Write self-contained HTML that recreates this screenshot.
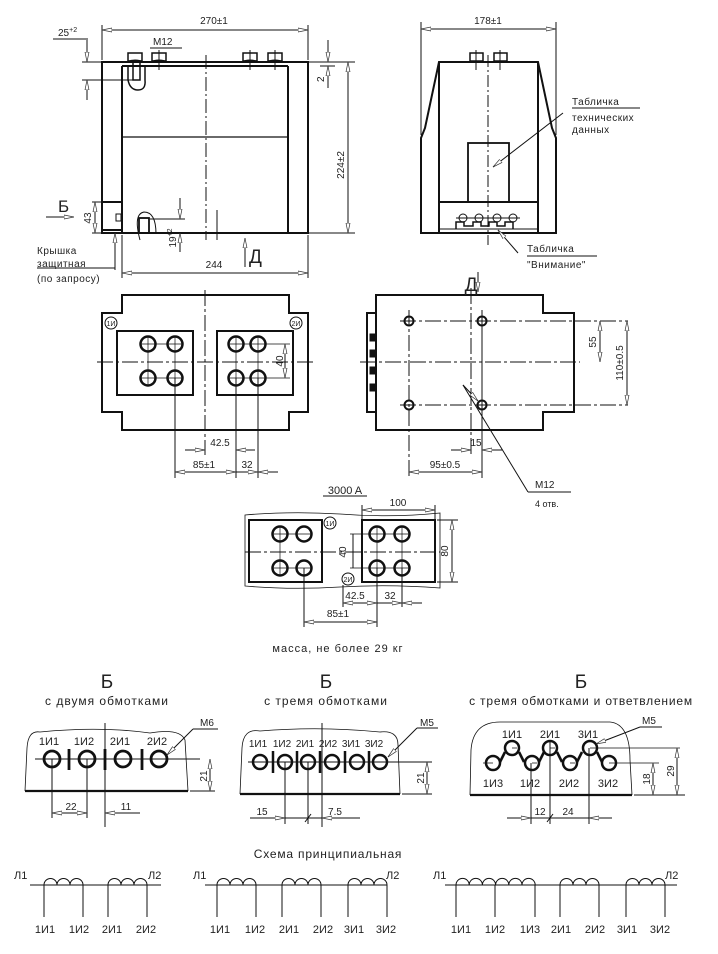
<!DOCTYPE html>
<html><head><meta charset="utf-8"><style>
html,body{margin:0;padding:0;background:#fff;}
svg{display:block;}
text{font-family:"Liberation Sans","DejaVu Sans",sans-serif;fill:#222;}
</style></head><body>
<svg width="718" height="954" viewBox="0 0 718 954" xmlns="http://www.w3.org/2000/svg">
<defs>
<marker id="a" markerWidth="10" markerHeight="6" refX="10" refY="3" orient="auto-start-reverse" markerUnits="userSpaceOnUse"><path d="M0,1 L10,3 L0,5z" fill="#fff" stroke="#333" stroke-width="0.7"/></marker>
</defs>
<g fill="none" stroke="#111" stroke-width="1">

<!-- ===== VIEW 1 (front) ===== -->
<g stroke-width="2">
<rect x="102" y="62" width="206" height="171"/>
<line x1="122" y1="66" x2="122" y2="233"/>
<line x1="288" y1="66" x2="288" y2="233"/>
<line x1="122" y1="66" x2="288" y2="66"/>
<line x1="122" y1="137" x2="288" y2="137" stroke-width="1.2"/>
<rect x="102" y="202" width="20" height="28"/>
</g>
<line x1="206" y1="55" x2="206" y2="240" stroke-dasharray="14,3,2,3"/>
<line x1="217" y1="210" x2="217" y2="240"/>
<g stroke-width="1.5">
<rect x="128" y="53" width="14" height="8"/><rect x="152" y="53" width="14" height="8"/>
<rect x="243" y="53" width="14" height="8"/><rect x="268" y="53" width="14" height="8"/>
</g>
<path d="M126 62 q9 -4 18 0 M150 62 q9 -4 18 0 M241 62 q9 -4 18 0 M266 62 q9 -4 18 0"/>
<line x1="159" y1="50" x2="159" y2="70"/><line x1="275" y1="50" x2="275" y2="70"/><line x1="250" y1="50" x2="250" y2="70"/>
<path d="M128 66 L128 80 Q130 90 138 90 Q146 90 145 80 L145 66" stroke-width="1.5"/>
<rect x="133" y="62" width="7" height="18" stroke-width="1.5"/>
<path d="M140 240 q-7 -26 4 -28 q12 0 12 22" stroke-width="1"/>
<rect x="139" y="218" width="10" height="15" stroke-width="1.8"/>
<rect x="116" y="214" width="5" height="7"/>
<line x1="102" y1="25" x2="102" y2="60"/><line x1="308" y1="25" x2="308" y2="60"/>
<line x1="102" y1="30" x2="308" y2="30" marker-start="url(#a)" marker-end="url(#a)"/>
<line x1="53" y1="39" x2="88" y2="39"/>
<line x1="82" y1="62" x2="120" y2="62"/><line x1="82" y1="80" x2="135" y2="80"/>
<line x1="87" y1="40" x2="87" y2="62" marker-end="url(#a)"/><line x1="87" y1="100" x2="87" y2="80" marker-end="url(#a)"/>
<line x1="150" y1="48" x2="182" y2="48"/>
<line x1="308" y1="62" x2="355" y2="62"/><line x1="308" y1="233" x2="355" y2="233"/>
<line x1="320" y1="66" x2="335" y2="66"/>
<line x1="328" y1="40" x2="328" y2="62" marker-end="url(#a)"/><line x1="328" y1="88" x2="328" y2="66" marker-end="url(#a)"/>
<line x1="348" y1="62" x2="348" y2="233" marker-start="url(#a)" marker-end="url(#a)"/>
<line x1="122" y1="235" x2="122" y2="278"/><line x1="308" y1="235" x2="308" y2="278"/>
<line x1="122" y1="273" x2="308" y2="273" marker-start="url(#a)" marker-end="url(#a)"/>
<line x1="92" y1="202" x2="102" y2="202"/><line x1="92" y1="233" x2="122" y2="233"/>
<line x1="95" y1="202" x2="95" y2="233" marker-start="url(#a)" marker-end="url(#a)"/>
<line x1="46" y1="217" x2="74" y2="217" marker-end="url(#a)"/>
<line x1="245" y1="267" x2="245" y2="238" marker-end="url(#a)"/>
<line x1="150" y1="219" x2="185" y2="219"/>
<line x1="180" y1="198" x2="180" y2="219" marker-end="url(#a)"/><line x1="180" y1="252" x2="180" y2="233" marker-end="url(#a)"/>
<line x1="115" y1="233" x2="115" y2="270" marker-start="url(#a)"/>
<line x1="37" y1="268" x2="115" y2="268"/>

<!-- ===== VIEW 2 (side) ===== -->
<g stroke-width="2">
<path d="M439 62 L538 62 L552 128 L556 138 L556 233 L421 233 L421 138 L425 128 Z"/>
<line x1="439" y1="62" x2="439" y2="233"/><line x1="538" y1="62" x2="538" y2="233"/>
<rect x="468" y="143" width="41" height="59" stroke-width="1.8"/>
<line x1="439" y1="202" x2="538" y2="202"/>
<line x1="440" y1="229" x2="538" y2="229" stroke-width="1"/>
<path d="M456 229 V222 h8 v4 h9 v-4 h8 v4 h8 v-4 h8 v4 h8 v-4 h8 v7" stroke-width="1.5"/>
<rect x="470" y="53" width="13" height="8" stroke-width="1.5"/><rect x="494" y="53" width="13" height="8" stroke-width="1.5"/>
</g>
<circle cx="463" cy="218" r="4"/><circle cx="479" cy="218" r="4"/><circle cx="497" cy="218" r="4"/><circle cx="513" cy="218" r="4"/>
<line x1="456" y1="218" x2="520" y2="218"/>
<line x1="488" y1="55" x2="488" y2="245" stroke-dasharray="12,3,2,3"/>
<line x1="476" y1="50" x2="476" y2="70"/><line x1="500" y1="50" x2="500" y2="70"/>
<line x1="421" y1="22" x2="421" y2="135"/><line x1="556" y1="22" x2="556" y2="135"/>
<line x1="421" y1="29" x2="556" y2="29" marker-start="url(#a)" marker-end="url(#a)"/>
<line x1="572" y1="108" x2="640" y2="108"/>
<line x1="563" y1="113" x2="493" y2="167" marker-end="url(#a)"/>
<line x1="527" y1="256" x2="597" y2="256"/>
<line x1="518" y1="253" x2="498" y2="230" marker-end="url(#a)"/>

<!-- ===== VIEW 3 (top left) ===== -->
<g stroke-width="2">
<path d="M122 295 H289 V313 H308 V412 H289 V430 H122 V412 H102 V313 H122 Z"/>
<rect x="117" y="331" width="76" height="64"/>
<rect x="217" y="331" width="76" height="64"/>
</g>
<line x1="97" y1="362" x2="314" y2="362" stroke-dasharray="16,3,3,3"/>
<line x1="205" y1="290" x2="205" y2="455" stroke-dasharray="16,3,3,3"/>
<g stroke-width="2.5">
<circle cx="148" cy="344" r="7.5"/><circle cx="175" cy="344" r="7.5"/><circle cx="148" cy="378" r="7.5"/><circle cx="175" cy="378" r="7.5"/>
<circle cx="236" cy="344" r="7.5"/><circle cx="258" cy="344" r="7.5"/><circle cx="236" cy="378" r="7.5"/><circle cx="258" cy="378" r="7.5"/>
</g>
<path d="M140 344h42M140 378h42M229 344h61M229 378h61M148 336v50M175 336v50M236 336v50M258 336v50" stroke-width="0.7"/>
<circle cx="111" cy="323" r="6"/><circle cx="296" cy="323" r="6"/>
<line x1="175" y1="378" x2="175" y2="478"/><line x1="236" y1="378" x2="236" y2="478"/><line x1="258" y1="378" x2="258" y2="478"/>
<line x1="185" y1="450" x2="205" y2="450" marker-end="url(#a)"/><line x1="255" y1="450" x2="236" y2="450" marker-end="url(#a)"/>
<line x1="175" y1="472" x2="236" y2="472" marker-start="url(#a)" marker-end="url(#a)"/>
<line x1="236" y1="472" x2="258" y2="472" marker-end="url(#a)"/><line x1="278" y1="472" x2="258" y2="472" marker-end="url(#a)"/>
<line x1="285" y1="344" x2="285" y2="378" marker-start="url(#a)" marker-end="url(#a)"/>

<!-- ===== VIEW 4 (top right) ===== -->
<g stroke-width="2">
<path d="M376 295 H543 V313 H574 V412 H543 V430 H376 V412 H367 V313 H376 Z"/>
<line x1="376" y1="313" x2="376" y2="412"/>
</g>
<rect x="370" y="334" width="5" height="7" fill="#111"/><rect x="370" y="350" width="5" height="7" fill="#111"/>
<rect x="370" y="367" width="5" height="7" fill="#111"/><rect x="370" y="384" width="5" height="7" fill="#111"/>
<line x1="360" y1="362" x2="580" y2="362" stroke-dasharray="16,3,3,3"/>
<line x1="471" y1="288" x2="471" y2="455" stroke-dasharray="16,3,3,3"/>
<line x1="400" y1="321" x2="628" y2="321" stroke-dasharray="16,3,3,3"/>
<line x1="400" y1="405" x2="628" y2="405" stroke-dasharray="16,3,3,3"/>
<line x1="409" y1="310" x2="409" y2="478" stroke-dasharray="16,3,3,3"/>
<line x1="482" y1="310" x2="482" y2="478"/>
<g stroke-width="2"><circle cx="409" cy="321" r="4.5"/><circle cx="482" cy="321" r="4.5"/><circle cx="409" cy="405" r="4.5"/><circle cx="482" cy="405" r="4.5"/></g>
<line x1="600" y1="321" x2="600" y2="362" marker-start="url(#a)" marker-end="url(#a)"/>
<line x1="627" y1="321" x2="627" y2="405" marker-start="url(#a)" marker-end="url(#a)"/>
<line x1="463" y1="385" x2="528" y2="492"/><line x1="528" y1="492" x2="571" y2="492"/>
<line x1="463" y1="385" x2="478" y2="401" marker-end="url(#a)"/>
<line x1="451" y1="450" x2="471" y2="450" marker-end="url(#a)"/><line x1="502" y1="450" x2="482" y2="450" marker-end="url(#a)"/>
<line x1="409" y1="472" x2="482" y2="472" marker-start="url(#a)" marker-end="url(#a)"/>
<line x1="478" y1="272" x2="478" y2="292" marker-end="url(#a)"/>

<!-- ===== VIEW 5 (3000A) ===== -->
<line x1="323" y1="496" x2="367" y2="496"/>
<path d="M245 515 Q290 511 340 514 Q390 518 440 513 L440 588 Q390 584 340 587 Q290 590 245 586 Z" stroke-width="0.8"/>
<g stroke-width="2"><rect x="249" y="520" width="73" height="62"/><rect x="362" y="520" width="73" height="62"/></g>
<line x1="245" y1="552" x2="440" y2="552" stroke-dasharray="16,3,3,3"/>
<g stroke-width="2.5">
<circle cx="280" cy="534" r="7.5"/><circle cx="304" cy="534" r="7.5"/><circle cx="280" cy="568" r="7.5"/><circle cx="304" cy="568" r="7.5"/>
<circle cx="377" cy="534" r="7.5"/><circle cx="402" cy="534" r="7.5"/><circle cx="377" cy="568" r="7.5"/><circle cx="402" cy="568" r="7.5"/>
</g>
<path d="M272 534h40M272 568h40M350 534h60M350 568h60M280 526v50M377 526v50M402 526v50" stroke-width="0.7"/>
<circle cx="330" cy="523" r="6"/><circle cx="348" cy="579" r="6"/>
<line x1="353" y1="534" x2="353" y2="568"/>
<line x1="362" y1="505" x2="362" y2="520"/><line x1="435" y1="505" x2="435" y2="520"/>
<line x1="362" y1="510" x2="435" y2="510" marker-start="url(#a)" marker-end="url(#a)"/>
<line x1="437" y1="520" x2="458" y2="520"/><line x1="437" y1="582" x2="458" y2="582"/>
<line x1="452" y1="520" x2="452" y2="582" marker-start="url(#a)" marker-end="url(#a)"/>
<line x1="304" y1="568" x2="304" y2="627"/><line x1="377" y1="568" x2="377" y2="627"/><line x1="343" y1="585" x2="343" y2="607"/><line x1="402" y1="568" x2="402" y2="607"/>
<line x1="343" y1="603" x2="377" y2="603" marker-start="url(#a)" marker-end="url(#a)"/>
<line x1="377" y1="603" x2="402" y2="603" marker-end="url(#a)"/><line x1="422" y1="603" x2="402" y2="603" marker-end="url(#a)"/>
<line x1="304" y1="622" x2="377" y2="622" marker-start="url(#a)" marker-end="url(#a)"/>

<!-- ===== Б views ===== -->
<path d="M25 791 L27 748 Q28 730 40 732 Q100 726 150 733 Q180 728 185 740 L188 791" stroke-width="0.8"/>
<line x1="25" y1="791" x2="188" y2="791" stroke-width="2.2"/>
<line x1="35" y1="759" x2="200" y2="759"/>
<line x1="105" y1="723" x2="105" y2="827"/>
<g stroke-width="2.8"><circle cx="52" cy="759" r="8"/><circle cx="87" cy="759" r="8"/><circle cx="123" cy="759" r="8"/><circle cx="159" cy="759" r="8"/>
<line x1="69" y1="749" x2="69" y2="770"/><line x1="105" y1="749" x2="105" y2="770"/><line x1="142" y1="749" x2="142" y2="770"/></g>
<line x1="52" y1="759" x2="52" y2="818"/><line x1="87" y1="759" x2="87" y2="818"/>
<line x1="193" y1="729" x2="218" y2="729"/><line x1="193" y1="729" x2="167" y2="755" marker-end="url(#a)"/>
<line x1="190" y1="791" x2="215" y2="791"/>
<line x1="210" y1="759" x2="210" y2="791" marker-start="url(#a)" marker-end="url(#a)"/>
<line x1="52" y1="813" x2="87" y2="813" marker-start="url(#a)" marker-end="url(#a)"/>
<line x1="140" y1="813" x2="105" y2="813" marker-end="url(#a)"/>

<path d="M240 794 L242 748 Q243 728 260 731 Q320 726 380 732 Q398 730 398 745 L400 794" stroke-width="0.8"/>
<line x1="240" y1="794" x2="400" y2="794" stroke-width="2.2"/>
<line x1="248" y1="762" x2="432" y2="762"/>
<line x1="322" y1="723" x2="322" y2="827"/>
<g stroke-width="2.5"><circle cx="260" cy="762" r="7"/><circle cx="285" cy="762" r="7"/><circle cx="308" cy="762" r="7"/><circle cx="332" cy="762" r="7"/><circle cx="357" cy="762" r="7"/><circle cx="380" cy="762" r="7"/>
<line x1="273" y1="751" x2="273" y2="773"/><line x1="297" y1="751" x2="297" y2="773"/><line x1="320" y1="751" x2="320" y2="773"/><line x1="345" y1="751" x2="345" y2="773"/><line x1="369" y1="751" x2="369" y2="773"/></g>
<line x1="285" y1="762" x2="285" y2="824"/><line x1="308" y1="762" x2="308" y2="824"/>
<line x1="417" y1="728" x2="438" y2="728"/><line x1="417" y1="728" x2="388" y2="757" marker-end="url(#a)"/>
<line x1="402" y1="794" x2="432" y2="794"/>
<line x1="427" y1="762" x2="427" y2="794" marker-start="url(#a)" marker-end="url(#a)"/>
<line x1="250" y1="818" x2="285" y2="818" marker-end="url(#a)"/>
<line x1="285" y1="818" x2="360" y2="818"/><line x1="340" y1="818" x2="322" y2="818" marker-end="url(#a)"/>
<line x1="305" y1="822" x2="311" y2="814"/>

<path d="M470 795 L471 750 Q473 722 500 722 L610 722 Q630 724 630 760 L632 795" stroke-width="0.8"/>
<line x1="470" y1="795" x2="632" y2="795" stroke-width="2.2"/>
<path d="M483 763h10M532 763h5M570 763h5M609 763h50M512 748h5M550 748h5M590 748h90" stroke-width="0.7"/>
<g stroke-width="2.5">
<circle cx="493" cy="763" r="7"/><circle cx="512" cy="748" r="7"/><circle cx="532" cy="763" r="7"/><circle cx="550" cy="748" r="7"/><circle cx="570" cy="763" r="7"/><circle cx="590" cy="748" r="7"/><circle cx="609" cy="763" r="7"/>
</g>
<g stroke-width="2.6">
<line x1="500" y1="762" x2="505" y2="752"/><line x1="519" y1="752" x2="524" y2="762"/><line x1="539" y1="762" x2="544" y2="752"/><line x1="557" y1="752" x2="562" y2="762"/><line x1="577" y1="762" x2="582" y2="752"/><line x1="597" y1="752" x2="602" y2="762"/>
</g>
<line x1="550" y1="740" x2="550" y2="824"/><line x1="531" y1="763" x2="531" y2="824"/><line x1="589" y1="748" x2="589" y2="824"/>
<line x1="640" y1="727" x2="662" y2="727"/><line x1="640" y1="727" x2="596" y2="744" marker-end="url(#a)"/>
<line x1="634" y1="795" x2="685" y2="795"/>
<line x1="653" y1="763" x2="653" y2="795" marker-start="url(#a)" marker-end="url(#a)"/>
<line x1="677" y1="748" x2="677" y2="795" marker-start="url(#a)" marker-end="url(#a)"/>
<line x1="507" y1="818" x2="531" y2="818" marker-end="url(#a)"/>
<line x1="531" y1="818" x2="589" y2="818"/><line x1="612" y1="818" x2="589" y2="818" marker-end="url(#a)"/>
<line x1="547" y1="822" x2="553" y2="814"/>

<!-- ===== Schemes ===== -->
<g stroke-width="1">
<line x1="30" y1="885" x2="161" y2="885"/>
<path d="M44 885 a6.5 6.5 0 0 1 13 0 a6.5 6.5 0 0 1 13 0 a6.5 6.5 0 0 1 13 0 M108 885 a6.5 6.5 0 0 1 13 0 a6.5 6.5 0 0 1 13 0 a6.5 6.5 0 0 1 13 0"/>
<path d="M44 885V917M83 885V917M108 885V917M147 885V917"/>
<line x1="205" y1="885" x2="387" y2="885"/>
<path d="M217 885 a6.5 6.5 0 0 1 13 0 a6.5 6.5 0 0 1 13 0 a6.5 6.5 0 0 1 13 0 M282 885 a6.5 6.5 0 0 1 13 0 a6.5 6.5 0 0 1 13 0 a6.5 6.5 0 0 1 13 0 M348 885 a6.5 6.5 0 0 1 13 0 a6.5 6.5 0 0 1 13 0 a6.5 6.5 0 0 1 13 0"/>
<path d="M217 885V917M256 885V917M282 885V917M321 885V917M348 885V917M387 885V917"/>
<line x1="445" y1="885" x2="677" y2="885"/>
<path d="M456 885 a6.6 6.6 0 0 1 13.2 0 a6.6 6.6 0 0 1 13.2 0 a6.6 6.6 0 0 1 13.2 0 a6.6 6.6 0 0 1 13.2 0 a6.6 6.6 0 0 1 13.2 0 a6.6 6.6 0 0 1 13.2 0 M560 885 a6.5 6.5 0 0 1 13 0 a6.5 6.5 0 0 1 13 0 a6.5 6.5 0 0 1 13 0 M626 885 a6.5 6.5 0 0 1 13 0 a6.5 6.5 0 0 1 13 0 a6.5 6.5 0 0 1 13 0"/>
<path d="M456 885V917M495 885V917M535 885V917M560 885V917M599 885V917M626 885V917M665 885V917"/>
</g>
</g>

<!-- ===== TEXT ===== -->
<g font-size="11">
<text x="214" y="24" text-anchor="middle" font-size="10">270±1</text>
<text x="58" y="36" font-size="10">25<tspan font-size="7" dy="-4">+2</tspan></text>
<text x="153" y="45" font-size="10">M12</text>
<text transform="translate(324,82) rotate(-90)" font-size="10">2</text>
<text transform="translate(344,165) rotate(-90)" font-size="10" text-anchor="middle">224±2</text>
<text x="58" y="212" font-size="17">Б</text>
<text transform="translate(91,218) rotate(-90)" font-size="10" text-anchor="middle">43</text>
<text transform="translate(176,238) rotate(-90)" font-size="10" text-anchor="middle">19<tspan font-size="7" dy="-4">+2</tspan></text>
<text x="214" y="268" text-anchor="middle" font-size="10">244</text>
<text x="249" y="263" font-size="19">Д</text>
<text x="37" y="254" font-size="10" letter-spacing="0.5">Крышка</text>
<text x="37" y="267" font-size="10" letter-spacing="0.5">защитная</text>
<text x="37" y="282" font-size="10" letter-spacing="0.5">(по запросу)</text>
<text x="488" y="24" text-anchor="middle" font-size="10">178±1</text>
<text x="572" y="105" font-size="10" letter-spacing="0.5">Табличка</text>
<text x="572" y="121" font-size="10" letter-spacing="0.5">технических</text>
<text x="572" y="133" font-size="10" letter-spacing="0.5">данных</text>
<text x="527" y="252" font-size="10" letter-spacing="0.5">Табличка</text>
<text x="527" y="268" font-size="10" letter-spacing="0.5">"Внимание"</text>
<text x="471" y="291" text-anchor="middle" font-size="19">Д</text>
<text x="220" y="446" text-anchor="middle" font-size="10">42.5</text>
<text x="204" y="468" text-anchor="middle" font-size="10">85±1</text>
<text x="247" y="468" text-anchor="middle" font-size="10">32</text>
<text transform="translate(283,361) rotate(-90)" text-anchor="middle" font-size="10">40</text>
<text x="111" y="326" text-anchor="middle" font-size="7">1И</text>
<text x="296" y="326" text-anchor="middle" font-size="7">2И</text>
<text x="476" y="446" text-anchor="middle" font-size="10">15</text>
<text x="445" y="468" text-anchor="middle" font-size="10">95±0.5</text>
<text x="535" y="488" font-size="10">M12</text>
<text x="535" y="507" font-size="9">4 отв.</text>
<text transform="translate(596,342) rotate(-90)" text-anchor="middle" font-size="10">55</text>
<text transform="translate(623,363) rotate(-90)" text-anchor="middle" font-size="10">110±0.5</text>
<text x="345" y="494" text-anchor="middle" font-size="11">3000 A</text>
<text x="398" y="506" text-anchor="middle" font-size="10">100</text>
<text transform="translate(448,551) rotate(-90)" text-anchor="middle" font-size="10">80</text>
<text transform="translate(346,552) rotate(-90)" text-anchor="middle" font-size="10">40</text>
<text x="330" y="526" text-anchor="middle" font-size="7">1И</text>
<text x="348" y="582" text-anchor="middle" font-size="7">2И</text>
<text x="355" y="599" text-anchor="middle" font-size="10">42.5</text>
<text x="390" y="599" text-anchor="middle" font-size="10">32</text>
<text x="338" y="617" text-anchor="middle" font-size="10">85±1</text>
<text x="338" y="652" text-anchor="middle" font-size="11" letter-spacing="1">масса, не более 29 кг</text>

<text x="107" y="688" text-anchor="middle" font-size="19">Б</text>
<text x="326" y="688" text-anchor="middle" font-size="19">Б</text>
<text x="581" y="688" text-anchor="middle" font-size="19">Б</text>
<text x="107" y="705" text-anchor="middle" font-size="12" letter-spacing="1">с двумя обмотками</text>
<text x="326" y="705" text-anchor="middle" font-size="12" letter-spacing="1">с тремя обмотками</text>
<text x="581" y="705" text-anchor="middle" font-size="12" letter-spacing="0.8">с тремя обмотками и ответвлением</text>
<text x="200" y="726" font-size="10">M6</text>
<text x="420" y="726" font-size="10">M5</text>
<text x="642" y="724" font-size="10">M5</text>
<g font-size="11" text-anchor="middle">
<text x="49" y="745">1И1</text><text x="84" y="745">1И2</text><text x="120" y="745">2И1</text><text x="157" y="745">2И2</text>
<text x="258" y="747" font-size="10">1И1</text><text x="282" y="747" font-size="10">1И2</text><text x="305" y="747" font-size="10">2И1</text><text x="328" y="747" font-size="10">2И2</text><text x="351" y="747" font-size="10">3И1</text><text x="374" y="747" font-size="10">3И2</text>
<text x="512" y="738">1И1</text><text x="550" y="738">2И1</text><text x="588" y="738">3И1</text>
<text x="493" y="787">1И3</text><text x="530" y="787">1И2</text><text x="569" y="787">2И2</text><text x="608" y="787">3И2</text>
</g>
<text transform="translate(207,776) rotate(-90)" text-anchor="middle" font-size="10">21</text>
<text transform="translate(424,778) rotate(-90)" text-anchor="middle" font-size="10">21</text>
<text transform="translate(650,779) rotate(-90)" text-anchor="middle" font-size="10">18</text>
<text transform="translate(674,771) rotate(-90)" text-anchor="middle" font-size="10">29</text>
<text x="71" y="810" text-anchor="middle" font-size="10">22</text>
<text x="126" y="810" text-anchor="middle" font-size="10">11</text>
<text x="262" y="815" text-anchor="middle" font-size="10">15</text>
<text x="335" y="815" text-anchor="middle" font-size="10">7.5</text>
<text x="540" y="815" text-anchor="middle" font-size="10">12</text>
<text x="568" y="815" text-anchor="middle" font-size="10">24</text>

<text x="328" y="858" text-anchor="middle" font-size="12" letter-spacing="0.8">Схема принципиальная</text>
<g font-size="11">
<text x="14" y="879">Л1</text><text x="148" y="879">Л2</text>
<text x="193" y="879">Л1</text><text x="386" y="879">Л2</text>
<text x="433" y="879">Л1</text><text x="665" y="879">Л2</text>
</g>
<g font-size="11" text-anchor="middle">
<text x="45" y="933">1И1</text><text x="79" y="933">1И2</text><text x="112" y="933">2И1</text><text x="146" y="933">2И2</text>
<text x="220" y="933">1И1</text><text x="255" y="933">1И2</text><text x="289" y="933">2И1</text><text x="323" y="933">2И2</text><text x="354" y="933">3И1</text><text x="386" y="933">3И2</text>
<text x="461" y="933">1И1</text><text x="495" y="933">1И2</text><text x="530" y="933">1И3</text><text x="561" y="933">2И1</text><text x="595" y="933">2И2</text><text x="627" y="933">3И1</text><text x="660" y="933">3И2</text>
</g>
</g>
</svg>
</body></html>
